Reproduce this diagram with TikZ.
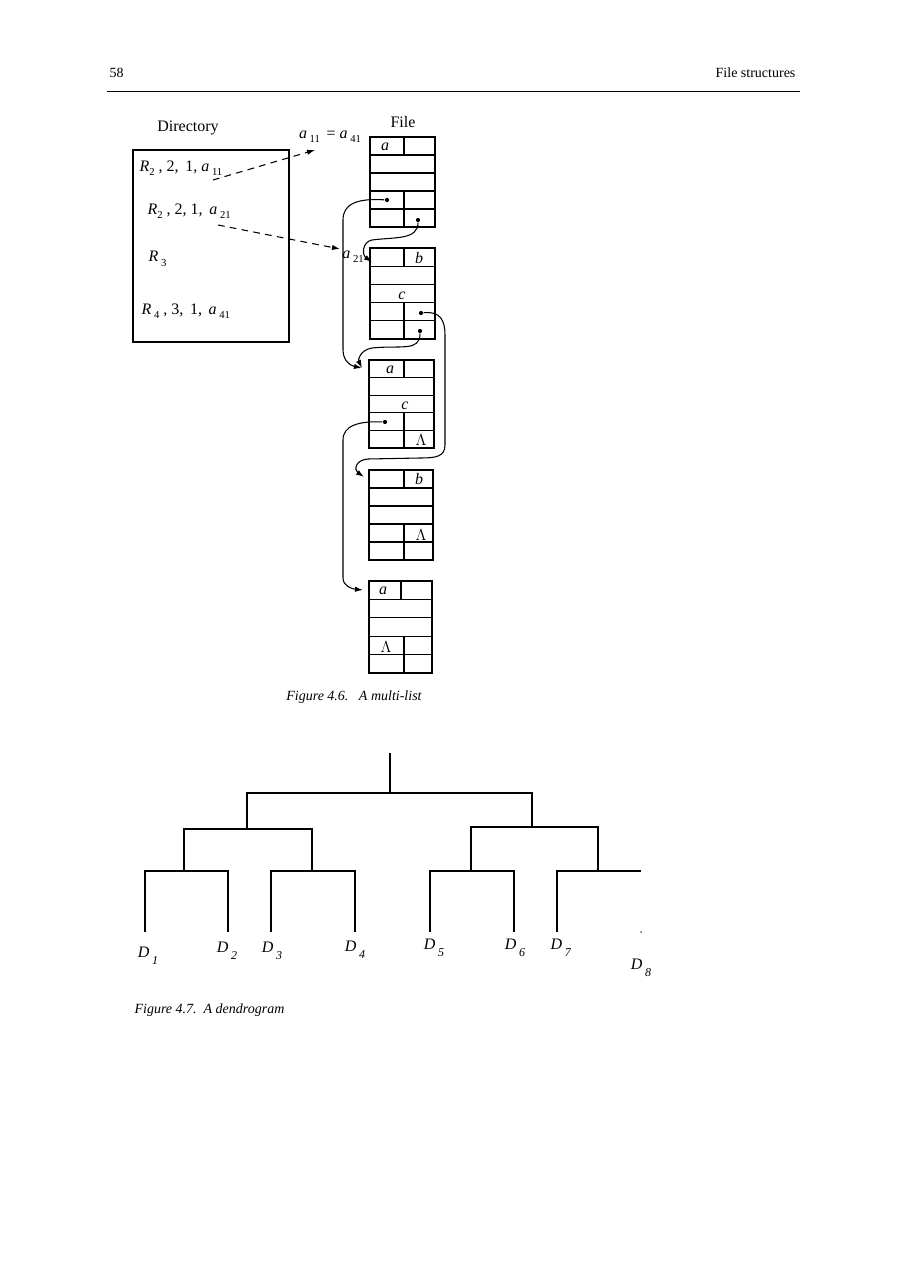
\documentclass[tikz,border=0pt]{standalone}
\usepackage{fontspec}
\setmainfont{Liberation Serif}
\usetikzlibrary{arrows.meta}
\newcommand{\lsb}[1]{\raisebox{-0.6ex}{\fontsize{8}{9}\selectfont #1}}
\begin{document}
\begin{tikzpicture}[x=0.75pt,y=-0.75pt,line width=0.9pt,
  every node/.style={font=\fontsize{10.5}{12}\selectfont,inner sep=0pt},
  big/.style={font=\fontsize{12}{14}\selectfont},
  ptr/.style={-{Latex[length=6pt,width=4pt]},line width=0.8pt},
  dsh/.style={ptr,dashed,dash pattern=on 5pt off 4pt},
  dot/.style={circle,fill,inner sep=1.1pt}]
\useasboundingbox (0,0) rectangle (910,1287);
\node[anchor=west] (pg) at (109,73) {58};
\node[anchor=east] (hd) at (796,73) {File structures};
\draw[line width=0.7pt] (107,91) -- (800,91);
% directory
\node[big] (dl) at (188,128) {Directory};
\draw (133,150) rectangle (289,342);
\node[big,anchor=west] (e1) at (139,168) {\textit{R}\lsb{2} , 2,\, 1, \textit{a}\,\lsb{11}};
\node[big,anchor=west] (e2) at (147,211) {\textit{R}\lsb{2} , 2, 1,\, \textit{a}\,\lsb{21}};
\node[big,anchor=west] (e3) at (148,259) {\textit{R}\,\lsb{3}};
\node[big,anchor=west] (e4) at (141,311) {\textit{R}\,\lsb{4} , 3,\, 1,\, \textit{a}\,\lsb{41}};
\node[big] (fl) at (403,122) {File};
\node[big] (eq) at (330,137) {\textit{a}\,\lsb{11} \,= \textit{a}\,\lsb{41}};
\node[big] (a21) at (353,257) {\textit{a}\,\lsb{21}};
% records
\newcommand{\rec}[7]{% x1 x2 y1 dy divx leftvals
  \draw (#1,#3) rectangle (#2,#3+5*#4);
  \foreach \i in {1,2,3,4} \draw (#1,#3+\i*#4) -- (#2,#3+\i*#4);
  \draw (#5,#3) -- (#5,#3+#4);
  \draw (404,#3+3*#4) -- (404,#3+5*#4);}
\rec{370}{435}{137}{18}{404}{}{}
\rec{370}{435}{248}{18.2}{404}{}{}
\rec{369}{434}{360}{17.6}{404}{}{}
\rec{369}{433}{470}{18}{404}{}{}
\rec{369}{432}{581}{18.4}{401}{}{}
\node[big] (r1a) at (385,147) {\textit{a}};
\node[big] (r2b) at (419,258) {\textit{b}};
\node[big] (r2c) at (402,296) {\textit{c}};
\node[big] (r3a) at (390,370) {\textit{a}};
\node[big] (r3c) at (405,406) {\textit{c}};
\node[big] (r3l) at (421,440) {$\Lambda$};
\node[big] (r4b) at (419,479) {\textit{b}};
\node[big] (r4l) at (421,535) {$\Lambda$};
\node[big] (r5a) at (383,591) {\textit{a}};
\node[big] (r5l) at (386,647) {$\Lambda$};
% pointers
\node[dot] (p1) at (387,200) {};
\node[dot] (p2) at (418,220) {};
\node[dot] (p3) at (421,313) {};
\node[dot] (p4) at (420,331) {};
\node[dot] (p5) at (385,422) {};
\coordinate (t2) at (372,262);
\coordinate (t3) at (362,368);
\coordinate (t4) at (364,477);
\coordinate (t5) at (363,590);
\draw[ptr] (p1) .. controls (355,198) and (343,205) .. (343,220) -- (343,350) .. controls (343,362) and (352,366) .. (t3);
\draw[ptr] (p2) .. controls (418,240) and (395,237) .. (372,240) .. controls (362,242) and (362,255) .. (t2);
\draw[ptr] (p4) .. controls (420,352) and (400,345) .. (372,348) .. controls (360,350) and (358,360) .. (t3);
\draw[ptr] (p3) .. controls (440,311) and (445,320) .. (445,335) -- (445,445) .. controls (445,457) and (435,458) .. (420,458) -- (368,459) .. controls (355,460) and (354,470) .. (t4);
\draw[ptr] (p5) .. controls (360,421) and (343,425) .. (343,440) -- (343,578) .. controls (343,586) and (352,589) .. (t5);
\coordinate (d1) at (213,180);
\coordinate (d1e) at (315,150);
\coordinate (d2) at (218,225);
\coordinate (d2e) at (340,249);
\draw[dsh] (d1) -- (d1e);
\draw[dsh] (d2) -- (d2e);
\node[font=\itshape\fontsize{10.5}{12}\selectfont] (c1) at (354,697) {Figure 4.6.\ \ \ A multi-list};
% dendrogram
\draw (390,753) -- (390,793);
\draw (247,829) -- (247,793) -- (532,793) -- (532,827);
\draw (184,871) -- (184,829) -- (312,829) -- (312,871);
\draw (471,871) -- (471,827) -- (598,827) -- (598,871);
\draw (145,932) -- (145,871) -- (228,871) -- (228,932);
\draw (271,932) -- (271,871) -- (355,871) -- (355,932);
\draw (430,932) -- (430,871) -- (514,871) -- (514,932);
\draw (557,932) -- (557,871) -- (641,871);
\node[dot,inner sep=0.4pt] (dd) at (641,932) {};
\newcommand{\dl}[3]{\node[big] (D#1) at (#2,#3) {\textit{D}\,\raisebox{-0.9ex}{\fontsize{9}{10}\selectfont\textit{#1}}};}
\dl{1}{148}{956}
\dl{2}{227}{951}
\dl{3}{272}{951}
\dl{4}{355}{950}
\dl{5}{434}{948}
\dl{6}{515}{948}
\dl{7}{561}{948}
\dl{8}{641}{968}
\node[anchor=west,font=\itshape\fontsize{10.5}{12}\selectfont] (c2) at (134,1010) {Figure 4.7.\ \ A dendrogram};
\end{tikzpicture}
\end{document}
